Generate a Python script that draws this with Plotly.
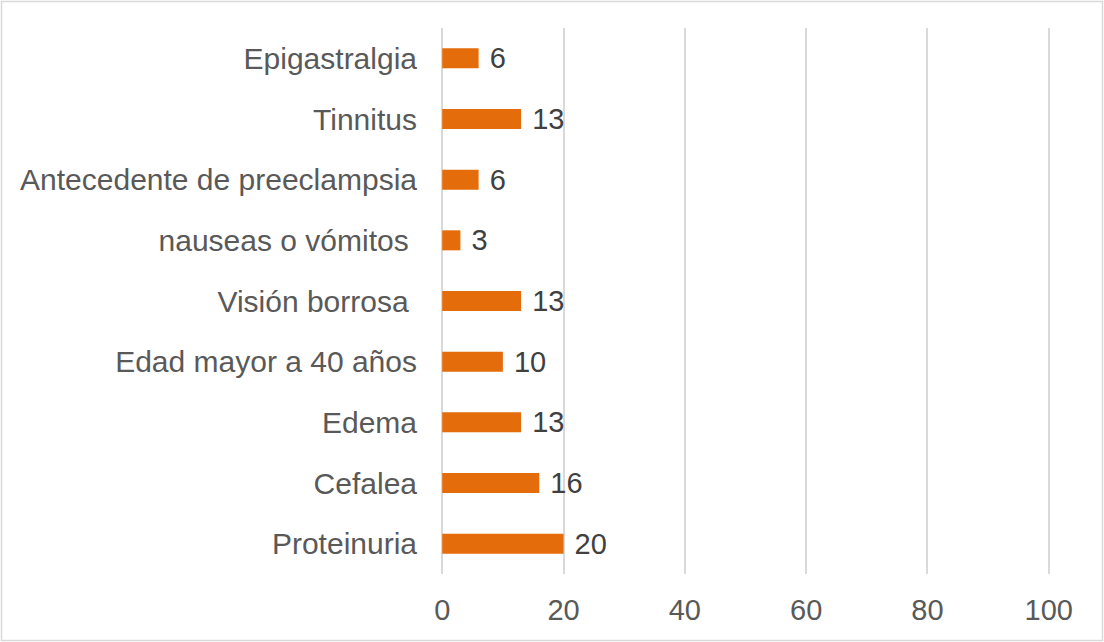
import plotly.graph_objects as go

# 資料：由下往上的順序（Plotly橫條圖的第一個類別在最下面）
categories = [
    "Proteinuria", "Cefalea", "Edema", "Edad mayor a 40 años", "Visión borrosa ",
    "nauseas o vómitos ", "Antecedente de preeclampsia", "Tinnitus", "Epigastralgia",
]
values = [20, 16, 13, 10, 13, 3, 6, 13, 6]
x_ticks = [0, 20, 40, 60, 80, 100]

BAR_COLOR = "#E46C0A"
GRID_COLOR = "#D9D9D9"
TICK_COLOR = "#595959"
LABEL_COLOR = "#404040"
FONT = "Liberation Sans, Arial, sans-serif"

W, H = 1104, 642
M = dict(l=441, r=54, t=28, b=68)

fig = go.Figure(go.Bar(
    x=values, y=categories, orientation="h",
    marker=dict(color=BAR_COLOR, line=dict(width=0)),
    width=0.33,
    text=values, texttemplate="\u00a0%{x}", textposition="outside",
    constraintext="none",
    textfont=dict(size=29, color=LABEL_COLOR, family=FONT),
    cliponaxis=False, showlegend=False,
))

# 外框：整張圖周圍的淺灰色邊線（用paper座標換算到畫布邊緣）
pw = W - M["l"] - M["r"]
ph = H - M["t"] - M["b"]
fig.add_shape(
    type="rect", xref="paper", yref="paper",
    x0=(1.5 - M["l"]) / pw, x1=(W - 1.5 - M["l"]) / pw,
    y0=-(M["b"] - 1.5) / ph, y1=1 + (M["t"] - 1.5) / ph,
    line=dict(color=GRID_COLOR, width=1.5), layer="below",
)

fig.update_layout(
    width=W, height=H, margin=M,
    paper_bgcolor="white", plot_bgcolor="white",
    font=dict(family=FONT, size=29, color=TICK_COLOR),
    bargap=0.67,
)
# 範圍左右各留一點，讓0跟100的格線不會因為貼齊邊界而被Plotly省略
fig.update_xaxes(
    range=[-0.2, 100.2], tickvals=x_ticks, showgrid=True, gridcolor=GRID_COLOR, gridwidth=1.5,
    zeroline=False, showline=False, ticks="", ticklabelstandoff=16,
    tickfont=dict(size=29, color=TICK_COLOR),
)
fig.update_yaxes(
    categoryorder="array", categoryarray=categories,
    showgrid=False, zeroline=False, showline=False, ticks="", ticklabelstandoff=23,
    tickfont=dict(size=30, color=TICK_COLOR),
)

# 瀏覽器預設body有8px邊距，拿掉讓圖貼齊視窗
fig.write_html(
    "out.html", config={"displayModeBar": False},
    post_script="document.body.style.margin='0';",
)
